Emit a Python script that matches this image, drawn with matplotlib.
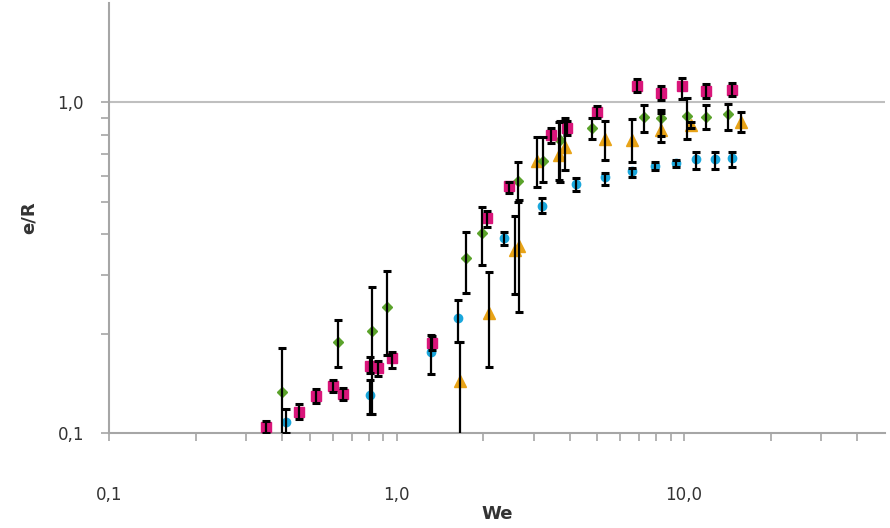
import matplotlib
matplotlib.use("Agg")
import matplotlib.pyplot as plt
from matplotlib.ticker import FixedLocator, FuncFormatter, NullFormatter

# pink squares
pink_x = [0.351, 0.457, 0.523, 0.600, 0.649, 0.806, 0.859, 0.961, 1.33, 2.07,
          2.47, 3.45, 3.93, 4.99, 6.87, 8.32, 9.84, 11.9, 14.7]
pink_y = [0.104, 0.116, 0.129, 0.139, 0.131, 0.160, 0.157, 0.169, 0.187, 0.446,
          0.557, 0.795, 0.835, 0.933, 1.125, 1.072, 1.118, 1.087, 1.094]
pink_lo = [0.100, 0.110, 0.123, 0.133, 0.126, 0.152, 0.149, 0.157, 0.178, 0.420,
           0.531, 0.752, 0.800, 0.895, 1.079, 1.014, 1.028, 1.035, 1.043]
pink_hi = [0.109, 0.122, 0.136, 0.145, 0.137, 0.170, 0.165, 0.176, 0.196, 0.470,
           0.575, 0.840, 0.876, 0.973, 1.174, 1.125, 1.190, 1.141, 1.149]

# green diamonds
green_x = [0.399, 0.624, 0.819, 0.930, 1.75, 1.99, 2.65, 3.24, 3.71, 4.79,
           7.26, 8.32, 10.2, 11.9, 14.2]
green_y = [0.133, 0.188, 0.203, 0.240, 0.338, 0.402, 0.577, 0.663, 0.768, 0.835,
           0.901, 0.895, 0.913, 0.907, 0.920]
green_lo = [0.090, 0.158, 0.114, 0.172, 0.265, 0.322, 0.499, 0.573, 0.573, 0.773,
            0.812, 0.790, 0.773, 0.829, 0.823]
green_hi = [0.181, 0.219, 0.276, 0.309, 0.405, 0.482, 0.659, 0.784, 0.882, 0.895,
            0.986, 0.952, 1.035, 0.986, 0.993]

# cyan circles
cyan_x = [0.412, 0.806, 1.32, 1.64, 2.37, 3.21, 4.22, 5.32, 6.60, 7.93,
          9.38, 11.0, 12.8, 14.7]
cyan_y = [0.108, 0.130, 0.176, 0.223, 0.388, 0.485, 0.565, 0.593, 0.619, 0.641,
          0.654, 0.673, 0.673, 0.677]
cyan_lo = [0.100, 0.114, 0.151, 0.188, 0.370, 0.462, 0.538, 0.561, 0.594, 0.623,
           0.636, 0.627, 0.627, 0.636]
cyan_hi = [0.118, 0.145, 0.198, 0.252, 0.405, 0.513, 0.589, 0.614, 0.632, 0.659,
           0.668, 0.706, 0.706, 0.706]

# orange triangles
orange_x = [1.66, 2.09, 2.59, 2.67, 3.09, 3.68, 3.86, 5.32, 6.60, 8.32, 10.6, 15.8]
orange_y = [0.144, 0.231, 0.357, 0.367, 0.663, 0.692, 0.731, 0.773, 0.768, 0.823,
            0.852, 0.871]
orange_lo = [0.080, 0.158, 0.263, 0.232, 0.554, 0.581, 0.623, 0.668, 0.659, 0.762,
             0.835, 0.817]
orange_hi = [0.188, 0.306, 0.453, 0.506, 0.789, 0.870, 0.895, 0.882, 0.889, 0.930,
             0.870, 0.939]

series = [
    (orange_x, orange_y, orange_lo, orange_hi, '^', 8, '#E8A317'),
    (cyan_x, cyan_y, cyan_lo, cyan_hi, 'o', 6, '#1AA7DC'),
    (green_x, green_y, green_lo, green_hi, 'D', 5.5, '#5BA32B'),
    (pink_x, pink_y, pink_lo, pink_hi, 's', 7, '#D9157A'),
]

fig = plt.figure(figsize=(8.9, 5.28), dpi=100)
ax = fig.add_axes([109/890, 95/528, 776/890, 430/528])

for xs, ys, lo, hi, mk, ms, col in series:
    ax.plot(xs, ys, linestyle='none', marker=mk, markersize=ms, color=col,
            markeredgecolor=col, zorder=3)
    yerr = [[y - l for y, l in zip(ys, lo)], [h - y for y, h in zip(ys, hi)]]
    ax.errorbar(xs, ys, yerr=yerr, fmt='none', ecolor='black', elinewidth=1.6,
                capsize=3.2, capthick=2.2, zorder=4)

ax.set_xscale('log')
ax.set_yscale('log')
ax.set_xlim(0.1, 50)
ax.set_ylim(0.1, 2.0)

ax.axhline(1.0, color='#BFBFBF', lw=1.5, zorder=1)

def comma(v, pos):
    return ('%.1f' % v).replace('.', ',')

ax.xaxis.set_major_locator(FixedLocator([0.1, 1.0, 10.0]))
ax.yaxis.set_major_locator(FixedLocator([0.1, 1.0]))
ax.xaxis.set_major_formatter(FuncFormatter(comma))
ax.yaxis.set_major_formatter(FuncFormatter(comma))
ax.xaxis.set_minor_locator(FixedLocator([0.2, 0.3, 0.4, 0.5, 0.6, 0.7, 0.8, 0.9,
                                         2, 3, 4, 5, 6, 7, 8, 9, 20, 30, 40]))
ax.yaxis.set_minor_locator(FixedLocator([0.2, 0.3, 0.4, 0.5, 0.6, 0.7, 0.8, 0.9]))
ax.xaxis.set_minor_formatter(NullFormatter())
ax.yaxis.set_minor_formatter(NullFormatter())

for s in ['top', 'right']:
    ax.spines[s].set_visible(False)
for s in ['left', 'bottom']:
    ax.spines[s].set_color('#A6A6A6')
    ax.spines[s].set_linewidth(1.5)

ax.tick_params(which='both', color='#A6A6A6', width=1.2, length=6,
               labelsize=12, labelcolor='#333333')
ax.tick_params(axis='x', which='major', pad=32)
ax.tick_params(axis='y', which='major', pad=12)

ax.set_xlabel('We', fontsize=13, fontweight='bold', color='#333333', labelpad=1)
ax.set_ylabel('e/R', fontsize=13, fontweight='bold', color='#333333', labelpad=14)

fig.savefig('out.png', dpi=100)
